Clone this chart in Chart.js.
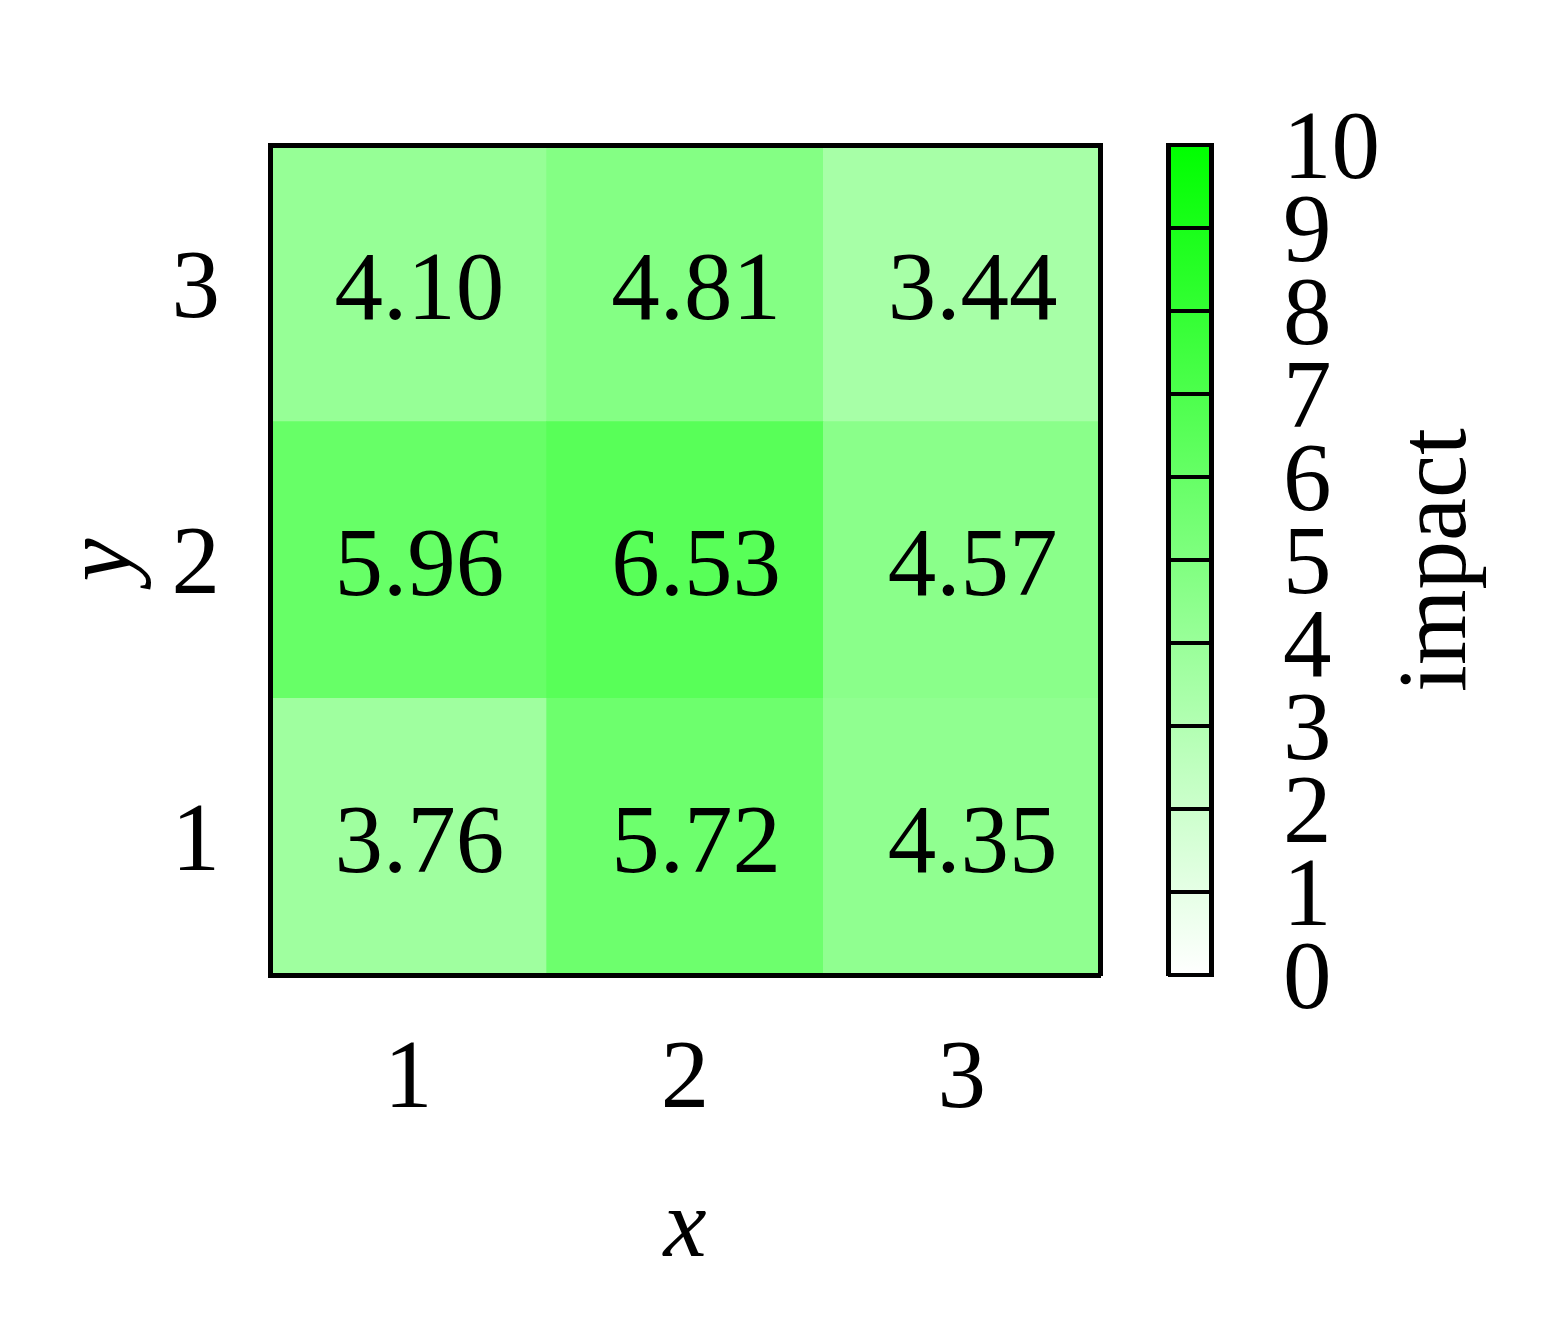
<!DOCTYPE html>
<html>
<head>
<meta charset="utf-8">
<script src="https://cdn.jsdelivr.net/npm/chart.js@4.4.0/dist/chart.umd.min.js"></script>
<style>
  body { margin: 0; background: #fff; }
  #wrap { position: relative; width: 1562px; height: 1334px; }
  canvas { position: absolute; top: 0; }
  #heat { left: 0; }
  #bar { left: 1140px; }
</style>
</head>
<body>
<div id="wrap">
  <canvas id="heat" width="1140" height="1334"></canvas>
  <canvas id="bar" width="422" height="1334"></canvas>
</div>
<script>
// categories
const xLabels = ['1', '2', '3'];
const yLabels = ['1', '2', '3'];
// impact values, one row per y (bottom to top), columns x = 1..3
const row1 = [3.76, 5.72, 4.35];
const row2 = [5.96, 6.53, 4.57];
const row3 = [4.10, 4.81, 3.44];
const rows = [row1, row2, row3];
// colour bar range and ticks
const cbMin = 0;
const cbMax = 10;
const cbTicks = [0, 1, 2, 3, 4, 5, 6, 7, 8, 9, 10];

const FONT = "'Liberation Serif', 'Times New Roman', serif";
const FS = 97;

// white -> pure green
function shade(v) {
  const t = (v - cbMin) / (cbMax - cbMin);
  const c = Math.round(255 * (1 - t));
  return `rgb(${c},255,${c})`;
}

// numbers printed in the middle of each cell
const cellLabels = {
  id: 'cellLabels',
  afterDatasetsDraw(chart) {
    const { ctx } = chart;
    ctx.save();
    ctx.font = `${FS}px ${FONT}`;
    ctx.fillStyle = '#000';
    ctx.textAlign = 'center';
    ctx.textBaseline = 'middle';
    chart.data.datasets.forEach((ds, r) => {
      chart.getDatasetMeta(r).data.forEach((bar, i) => {
        const cy = (bar.y + bar.base) / 2;
        ctx.fillText(ds.values[i].toFixed(2), bar.x + 11, cy + 10);
      });
    });
    ctx.restore();
  }
};

// colour bar title, reads bottom to top
const impactTitle = {
  id: 'impactTitle',
  afterDraw(chart) {
    const { ctx, chartArea } = chart;
    ctx.save();
    ctx.translate(325, (chartArea.top + chartArea.bottom) / 2);
    ctx.rotate(-Math.PI / 2);
    ctx.font = `${FS}px ${FONT}`;
    ctx.fillStyle = '#000';
    ctx.textAlign = 'center';
    ctx.textBaseline = 'alphabetic';
    ctx.fillText('impact', 0, 0);
    ctx.restore();
  }
};

const tickFont = { family: FONT, size: FS };
const titleFont = { family: FONT, size: FS, style: 'italic' };
const frame = { color: '#000', width: 5, z: 1 };

new Chart(document.getElementById('heat'), {
  type: 'bar',
  data: {
    labels: xLabels,
    datasets: rows.map((row, r) => ({
      data: row.map(() => [r + 0.5, r + 1.5]),
      values: row,
      backgroundColor: row.map(shade),
      borderWidth: 0,
      grouped: false,
      categoryPercentage: 1,
      barPercentage: 1
    }))
  },
  options: {
    responsive: false,
    animation: false,
    layout: { padding: { left: 0, top: 145, right: 40, bottom: 0 } },
    plugins: { legend: { display: false }, tooltip: { enabled: false } },
    scales: {
      x: {
        position: 'bottom',
        grid: { display: false, drawTicks: false },
        border: frame,
        ticks: { font: tickFont, color: '#000', padding: 48 },
        title: { display: true, text: 'x', font: titleFont, color: '#000', padding: { top: 0, bottom: 45 } },
        afterFit: s => { s.height = 359; }
      },
      y: {
        position: 'left',
        min: 0.5,
        max: 3.5,
        afterBuildTicks: s => { s.ticks = yLabels.map((_, i) => ({ value: i + 1 })); },
        grid: { display: false, drawTicks: false },
        border: frame,
        ticks: { font: tickFont, color: '#000', padding: 50, labelOffset: 8, callback: v => yLabels[Math.round(v) - 1] },
        title: { display: true, text: 'y', font: titleFont, color: '#000', padding: { top: 46, bottom: 0 } },
        afterFit: s => { s.width = 270; }
      },
      x2: {
        type: 'category',
        position: 'top',
        grid: { display: false, drawTicks: false },
        border: frame,
        ticks: { display: false },
        afterFit: s => { s.height = 0; }
      },
      y2: {
        type: 'linear',
        position: 'right',
        min: 0.5,
        max: 3.5,
        grid: { display: false, drawTicks: false },
        border: frame,
        ticks: { display: false },
        afterFit: s => { s.width = 0; }
      }
    }
  },
  plugins: [cellLabels]
});

new Chart(document.getElementById('bar'), {
  type: 'bar',
  data: {
    labels: [''],
    datasets: [{
      data: [[cbMin, cbMax]],
      backgroundColor: c => {
        const { chart } = c;
        const area = chart.chartArea;
        if (!area) return shade(5);
        const y = chart.scales.y;
        const g = chart.ctx.createLinearGradient(0, y.getPixelForValue(cbMin), 0, y.getPixelForValue(cbMax));
        g.addColorStop(0, shade(cbMin));
        g.addColorStop(1, shade(cbMax));
        return g;
      },
      borderWidth: 0,
      categoryPercentage: 1,
      barPercentage: 1
    }]
  },
  options: {
    responsive: false,
    animation: false,
    layout: { padding: { left: 28, top: 145, right: 0, bottom: 359 } },
    plugins: { legend: { display: false }, tooltip: { enabled: false } },
    scales: {
      x: { display: false },
      y: {
        position: 'right',
        min: cbMin,
        max: cbMax,
        afterBuildTicks: s => { s.ticks = cbTicks.map(v => ({ value: v })); },
        grid: { color: '#000', lineWidth: 4, drawTicks: false, z: 1 },
        border: frame,
        ticks: { font: tickFont, color: '#000', padding: 72, labelOffset: 8, autoSkip: false },
        afterFit: s => { s.width = 351; }
      },
      y2: {
        type: 'linear',
        position: 'left',
        min: cbMin,
        max: cbMax,
        grid: { display: false, drawTicks: false },
        border: frame,
        ticks: { display: false },
        afterFit: s => { s.width = 0; }
      }
    }
  },
  plugins: [impactTitle]
});
</script>
</body>
</html>
